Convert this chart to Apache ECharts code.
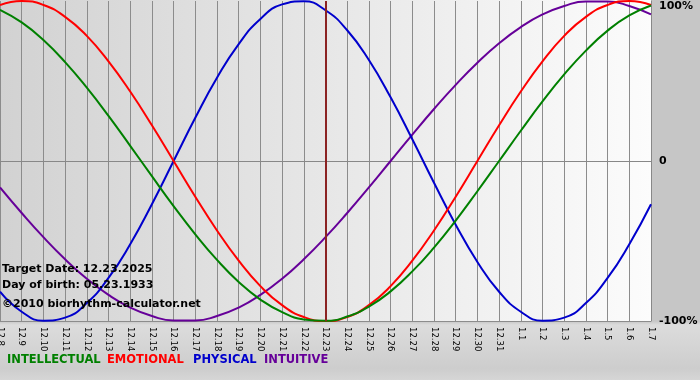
<!DOCTYPE html>
<html><head><meta charset="utf-8">
<script src="https://cdn.jsdelivr.net/npm/echarts@6/dist/echarts.min.js"></script>
<style>html,body{margin:0;padding:0;background:#c8c8c8}#c{width:700px;height:380px}</style>
</head><body><div id="c"></div>
<script>
const dates = ['12.8','12.9','12.10','12.11','12.12','12.13','12.14','12.15','12.16','12.17','12.18','12.19','12.20','12.21','12.22','12.23','12.24','12.25','12.26','12.27','12.28','12.29','12.30','12.31','1.1','1.2','1.3','1.4','1.5','1.6','1.7'];
const intellectual = [0.945,0.866,0.756,0.618,0.458,0.282,0.095,-0.095,-0.282,-0.458,-0.618,-0.756,-0.866,-0.945,-0.990,-0.999,-0.972,-0.910,-0.815,-0.690,-0.541,-0.372,-0.189,0,0.189,0.372,0.541,0.690,0.815,0.910,0.972];
const emotional = [0.975,1,0.975,0.901,0.782,0.623,0.434,0.223,0,-0.223,-0.434,-0.623,-0.782,-0.901,-0.975,-1,-0.975,-0.901,-0.782,-0.623,-0.434,-0.223,0,0.223,0.434,0.623,0.782,0.901,0.975,1,0.975];
const physical = [-0.817,-0.942,-0.998,-0.979,-0.888,-0.731,-0.520,-0.270,0,0.270,0.520,0.731,0.888,0.979,0.998,0.942,0.817,0.631,0.398,0.136,-0.136,-0.398,-0.631,-0.817,-0.942,-0.998,-0.979,-0.888,-0.731,-0.520,-0.270];
const intuitive = [-0.165,-0.325,-0.476,-0.614,-0.736,-0.837,-0.916,-0.969,-0.997,-0.997,-0.969,-0.916,-0.837,-0.736,-0.614,-0.476,-0.325,-0.165,0,0.165,0.325,0.476,0.614,0.736,0.837,0.916,0.969,0.997,0.997,0.969,0.916];
const yTicks = [-1, 0, 1];
const yTickLabels = ['-100%', '0', '100%'];
const targetDate = '12.23';
const infoLines = ['Target Date: 12.23.2025', 'Day of birth: 05.23.1933', '\u00a92010 biorhythm-calculator.net'];
const legendNames = ['INTELLECTUAL', 'EMOTIONAL', 'PHYSICAL', 'INTUITIVE'];

const C = { intellectual:'#008000', emotional:'#ff0000', physical:'#0000cc', intuitive:'#660099' };
const G = { left:0, top:1, right:49, bottom:59 };
const chart = echarts.init(document.getElementById('c'), null, {renderer:'canvas'});
const W = 700, H = 380;
const gw = W - G.left - G.right, gh = H - G.top - G.bottom;
const font = '"DejaVu Sans", Verdana, sans-serif';

function line(name, data, color) {
  return { name, type:'line', data, smooth:true, symbol:'none', lineStyle:{color, width:2}, itemStyle:{color}, z:3 };
}
const series = [
  line('INTUITIVE', intuitive, C.intuitive),
  line('PHYSICAL', physical, C.physical),
  line('EMOTIONAL', emotional, C.emotional),
  line('INTELLECTUAL', intellectual, C.intellectual)
];
series[0].markLine = { symbol:'none', silent:true, label:{show:false}, animation:false,
  lineStyle:{color:'#8b2323', width:2, type:'solid'}, data:[{xAxis: targetDate}] };

const legendX = [7, 107, 193, 264];
const legendC = [C.intellectual, C.emotional, C.physical, C.intuitive];
const graphics = [
  { type:'rect', z:-10, silent:true, shape:{x:0,y:0,width:W,height:H},
    style:{fill:new echarts.graphic.LinearGradient(0,0,0,1,[{offset:0,color:'#c6c6c6'},{offset:0.845,color:'#c6c6c6'},{offset:0.855,color:'#dcdcdc'},{offset:0.97,color:'#cdcdcd'},{offset:1,color:'#d6d6d6'}])} },
  { type:'rect', z:-9, silent:true, shape:{x:G.left,y:G.top-1,width:gw,height:gh+1},
    style:{fill:new echarts.graphic.LinearGradient(0,0,1,0,[{offset:0,color:'#d2d2d2'},{offset:1,color:'#fcfcfc'}])} }
];
infoLines.forEach((t,i)=>graphics.push({ type:'text', z:10, left:2, top:[264,280,299][i],
  style:{text:t, fill:'#000', font:'bold 11px '+font} }));
legendNames.forEach((t,i)=>graphics.push({ type:'text', z:10, left:legendX[i], top:354,
  style:{text:t, fill:legendC[i], font:'bold 11.5px '+font} }));

chart.setOption({
  animation:false,
  backgroundColor:'transparent',
  grid:{ left:G.left, top:G.top, right:G.right, bottom:G.bottom, containLabel:false, outerBoundsMode:'none' },
  xAxis:{ type:'category', data:dates, boundaryGap:false,
    axisLine:{show:true, lineStyle:{color:'#888', width:1}},
    axisTick:{show:true, interval:0, length:4, lineStyle:{color:'#888'}},
    splitLine:{show:true, interval:0, lineStyle:{color:'#8c8c8c', width:1}},
    axisLabel:{interval:0, rotate:-90, margin:6, color:'#000', fontFamily:font, fontSize:8.5} },
  yAxis:{ type:'value', position:'right', min:-1, max:1, interval:1,
    axisLine:{show:true, lineStyle:{color:'#888'}}, axisTick:{show:false},
    splitLine:{show:true, lineStyle:{color:['#8c8c8c','#8c8c8c','rgba(0,0,0,0)'], width:1}},
    axisLabel:{ margin:8, color:'#000', fontFamily:font, fontSize:11, fontWeight:'bold', verticalAlignMaxLabel:'top',
      formatter:v=>yTickLabels[yTicks.indexOf(v)] } },
  graphic: graphics,
  series
});
</script></body></html>
